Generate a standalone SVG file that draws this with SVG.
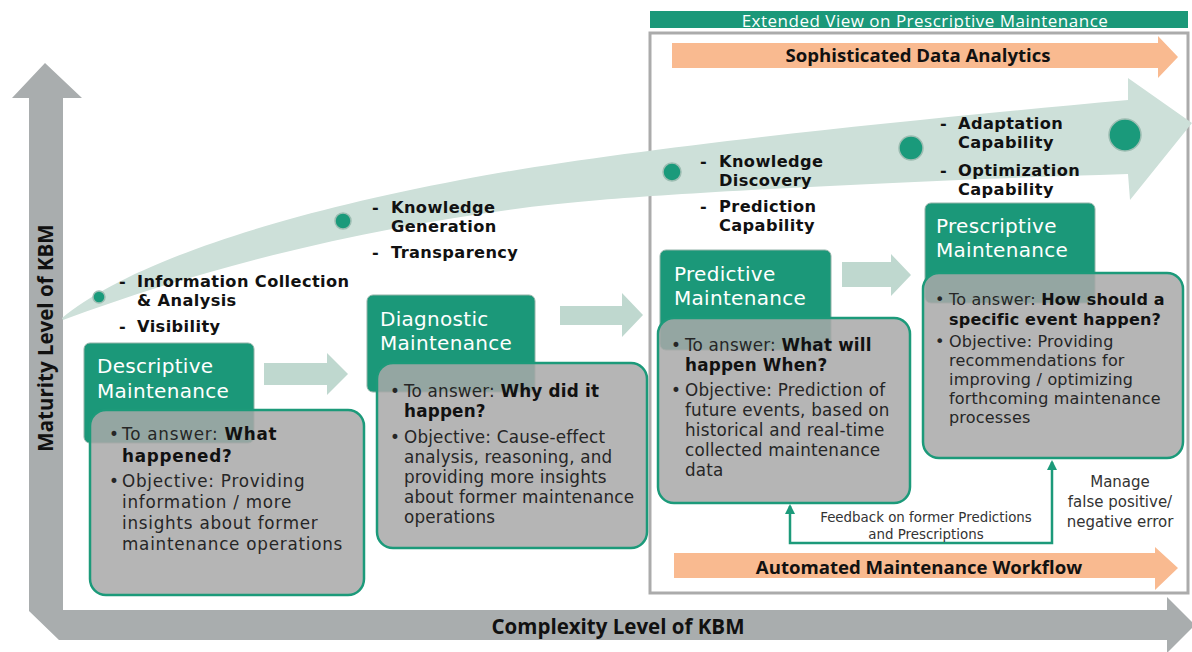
<svg xmlns="http://www.w3.org/2000/svg" width="1192" height="652" viewBox="0 0 1192 652">
<style>
text{font-family:"Open Sans","Noto Sans","Liberation Sans",sans-serif}
.title{font-family:"DejaVu Sans","Open Sans",sans-serif;font-size:20px;fill:#ffffff;letter-spacing:0.3px}
.body{font-family:"DejaVu Sans","Open Sans",sans-serif;font-size:16.8px;fill:#262626;letter-spacing:0.2px}
.wide{letter-spacing:0.75px}
.bp{font-size:16px}
.b{font-weight:bold;fill:#111}
.lab{font-family:"DejaVu Sans","Open Sans",sans-serif;font-size:16.2px;font-weight:bold;fill:#111;letter-spacing:0.4px}
.axis{font-size:20.5px;font-weight:bold;fill:#111}
.orng{font-size:18.6px;font-weight:bold;fill:#111;text-anchor:middle}
.small{font-family:"DejaVu Sans","Open Sans",sans-serif;font-size:13.4px;fill:#333;text-anchor:middle}
.mg{font-family:"DejaVu Sans","Open Sans",sans-serif;font-size:15px;fill:#333;text-anchor:middle}
.hdr{fill:#1b9879;stroke:#93b3a8;stroke-width:1}
.box{fill:#a9a9a9;fill-opacity:0.86;stroke:#1c9a7a;stroke-width:2.5}
.blk{fill:#bfd8cf}
.dot{fill:#1a9a7b;stroke:#9dbdb2;stroke-width:1.5}
.orange{fill:#f9ba90}
</style>
<defs>
<marker id="ah" viewBox="0 0 10 10" refX="8" refY="5" markerWidth="4" markerHeight="4" orient="auto-start-reverse" markerUnits="strokeWidth">
<path d="M0,0 L10,5 L0,10 Z" fill="#1c9a7a"/>
</marker>
</defs>

<!-- axes -->
<g id="axes">
<path d="M12,98 L45,63 L82,98 L63,98 L63,610 L1167,610 L1167,597 L1195,625 L1167,653 L1167,640 L59,640 L29,611 L29,98 Z" fill="#a9adae"/>
<text class="axis" transform="translate(53,338) rotate(-90)" text-anchor="middle" font-size="22">Maturity Level of KBM</text>
<text class="axis" x="618" y="634" text-anchor="middle">Complexity Level of KBM</text>
</g>

<!-- extended view frame -->
<g id="extended-view">
<rect x="650" y="33" width="538" height="560" fill="#ffffff" stroke="#ababab" stroke-width="3"/>
<rect x="650" y="11" width="538" height="17" fill="#1b9879"/>
<text x="925" y="26.5" font-size="17" fill="#ffffff" text-anchor="middle" letter-spacing="0.5">Extended View on Prescriptive Maintenance</text>
</g>

<g id="data-analytics">
<path class="orange" d="M672,43 L1158,43 L1158,36 L1178,57 L1158,78 L1158,68 L672,68 Z"/>
<text class="orng" x="918" y="62">Sophisticated Data Analytics</text>
</g>

<g id="workflow">
<path class="orange" d="M674,553 L1155,553 L1155,547 L1178,568 L1155,590 L1155,578 L674,578 Z"/>
<text class="orng" x="919" y="574">Automated Maintenance Workflow</text>
</g>

<!-- maturity band -->
<g id="maturity-band">
<path d="M62,318 C120,270 250,220 460,180 C600,153 850,125 1128,100 L1128,78 L1192,123 L1130,200 L1128,174 C900,181 700,192 600,200 C450,212 250,250 63,320 Z" fill="#cde0d9"/>
<circle class="dot" cx="99" cy="297" r="6"/>
<circle class="dot" cx="343" cy="221" r="8"/>
<circle class="dot" cx="672" cy="172" r="9"/>
<circle class="dot" cx="911" cy="148" r="12"/>
<circle class="dot" cx="1125" cy="135" r="16"/>
</g>

<g id="labels-1">
<text class="lab" x="119" y="287">-</text>
<text class="lab" x="137" y="287">Information Collection</text>
<text class="lab" x="137" y="306">&amp; Analysis</text>
<text class="lab" x="119" y="332">-</text>
<text class="lab" x="137" y="332">Visibility</text>
</g>
<g id="labels-2">
<text class="lab" x="372" y="213">-</text>
<text class="lab" x="391" y="213">Knowledge</text>
<text class="lab" x="391" y="232">Generation</text>
<text class="lab" x="372" y="258">-</text>
<text class="lab" x="391" y="258">Transparency</text>
</g>
<g id="labels-3">
<text class="lab" x="700" y="167">-</text>
<text class="lab" x="719" y="167">Knowledge</text>
<text class="lab" x="719" y="186">Discovery</text>
<text class="lab" x="700" y="212">-</text>
<text class="lab" x="719" y="212">Prediction</text>
<text class="lab" x="719" y="231">Capability</text>
</g>
<g id="labels-4">
<text class="lab" x="940" y="129">-</text>
<text class="lab" x="958" y="129">Adaptation</text>
<text class="lab" x="958" y="148">Capability</text>
<text class="lab" x="940" y="176">-</text>
<text class="lab" x="958" y="176">Optimization</text>
<text class="lab" x="958" y="195">Capability</text>
</g>

<!-- connectors -->
<g id="connectors">
<path class="blk" d="M264,363 L327,363 L327,353 L348,374 L327,395 L327,385 L264,385 Z"/>
<path class="blk" d="M560,306 L622,306 L622,293 L643,315 L622,337 L622,325 L560,325 Z"/>
<path class="blk" d="M842,262 L891,262 L891,254 L911,275 L891,296 L891,287 L842,287 Z"/>
<path d="M790,506 L790,543 L1052,543 L1052,462" fill="none" stroke="#1c9a7a" stroke-width="2.5" marker-start="url(#ah)" marker-end="url(#ah)"/>
<text class="small" x="926" y="522">Feedback on former Predictions</text>
<text class="small" x="926" y="539">and Prescriptions</text>
<text class="mg" x="1120" y="487">Manage</text>
<text class="mg" x="1120" y="507">false positive/</text>
<text class="mg" x="1120" y="527">negative error</text>
</g>

<!-- nodes -->
<g id="descriptive">
<rect class="hdr" x="84" y="343" width="170" height="100" rx="6"/>
<text class="title" x="97" y="373">Descriptive</text>
<text class="title" x="97" y="398">Maintenance</text>
<rect class="box" x="90" y="410" width="274" height="185" rx="16"/>
<text class="body" x="109" y="440">•</text>
<text class="body wide" x="122" y="440">To answer: <tspan class="b">What</tspan></text>
<text class="body wide b" x="122" y="462">happened?</text>
<text class="body" x="109" y="487">•</text>
<text class="body wide" x="122" y="487">Objective: Providing</text>
<text class="body wide" x="122" y="508">information / more</text>
<text class="body wide" x="122" y="529">insights about former</text>
<text class="body wide" x="122" y="550">maintenance operations</text>
</g>

<g id="diagnostic">
<rect class="hdr" x="367" y="295" width="168" height="97" rx="6"/>
<text class="title" x="380" y="326">Diagnostic</text>
<text class="title" x="380" y="350">Maintenance</text>
<rect class="box" x="377" y="363" width="270" height="185" rx="16"/>
<text class="body" x="390" y="397">•</text>
<text class="body" x="404" y="397">To answer: <tspan class="b">Why did it</tspan></text>
<text class="body b" x="404" y="417">happen?</text>
<text class="body" x="390" y="443">•</text>
<text class="body" x="404" y="443">Objective: Cause-effect</text>
<text class="body" x="404" y="463">analysis, reasoning, and</text>
<text class="body" x="404" y="483">providing more insights</text>
<text class="body" x="404" y="503">about former maintenance</text>
<text class="body" x="404" y="523">operations</text>
</g>

<g id="predictive">
<rect class="hdr" x="660" y="250" width="171" height="100" rx="6"/>
<text class="title" x="674" y="281">Predictive</text>
<text class="title" x="674" y="305">Maintenance</text>
<rect class="box" x="658" y="318" width="252" height="185" rx="16"/>
<text class="body" x="671" y="351">•</text>
<text class="body" x="685" y="351">To answer: <tspan class="b">What will</tspan></text>
<text class="body b" x="685" y="371">happen When?</text>
<text class="body" x="671" y="396">•</text>
<text class="body" x="685" y="396">Objective: Prediction of</text>
<text class="body" x="685" y="416">future events, based on</text>
<text class="body" x="685" y="436">historical and real-time</text>
<text class="body" x="685" y="456">collected maintenance</text>
<text class="body" x="685" y="476">data</text>
</g>

<g id="prescriptive">
<rect class="hdr" x="925" y="203" width="170" height="100" rx="6"/>
<text class="title" x="936" y="233">Prescriptive</text>
<text class="title" x="936" y="257">Maintenance</text>
<rect class="box" x="923" y="273" width="260" height="185" rx="16"/>
<text class="body bp" x="935" y="305">•</text>
<text class="body bp" x="949" y="305">To answer: <tspan class="b">How should a</tspan></text>
<text class="body bp b" x="949" y="325">specific event happen?</text>
<text class="body bp" x="935" y="347">•</text>
<text class="body bp" x="949" y="347">Objective: Providing</text>
<text class="body bp" x="949" y="366">recommendations for</text>
<text class="body bp" x="949" y="385">improving / optimizing</text>
<text class="body bp" x="949" y="404">forthcoming maintenance</text>
<text class="body bp" x="949" y="423">processes</text>
</g>
</svg>
